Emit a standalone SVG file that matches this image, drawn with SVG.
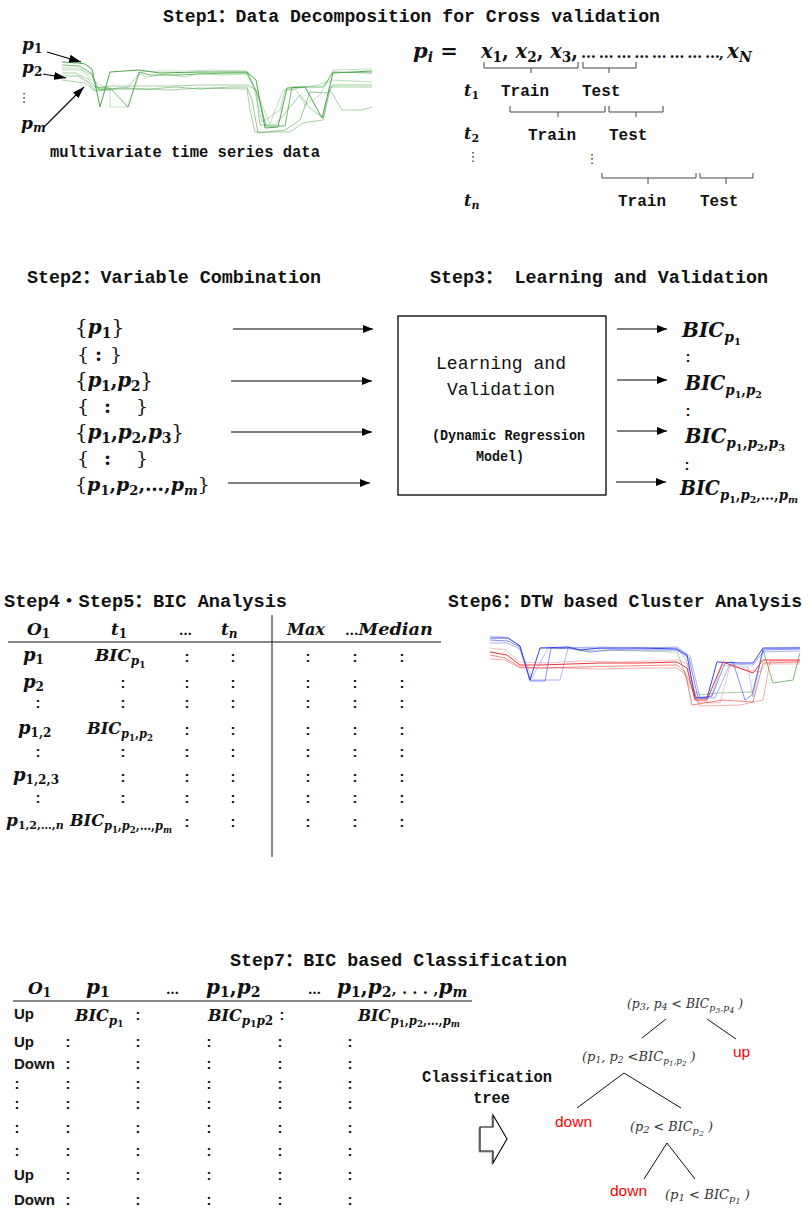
<svg xmlns="http://www.w3.org/2000/svg" width="810" height="1209" viewBox="0 0 810 1209">
<style>
.t{font-family:"Liberation Mono","Noto Sans CJK SC","DejaVu Sans Mono",monospace;font-weight:bold;fill:#111}
.s{font-family:"Liberation Mono","DejaVu Sans Mono",monospace;font-weight:bold;font-size:16px;fill:#111}
.m{font-family:"DejaVu Serif","Liberation Serif",serif;font-weight:bold;font-style:italic;fill:#111}
.n{font-style:normal}
.c{font-family:"Liberation Sans",Arial,sans-serif;font-weight:bold;font-size:15px;fill:#111;text-anchor:middle}
.vd{font-family:"DejaVu Sans",sans-serif;font-size:13px;fill:#333;text-anchor:middle}
.b{font-family:"Liberation Sans",Arial,sans-serif;font-weight:bold;font-size:15px;fill:#111}
.tr{font-family:"DejaVu Serif","Liberation Serif",serif;font-style:italic;font-size:13px;fill:#333}
.red{font-family:"Liberation Sans",Arial,sans-serif;font-size:15.5px;fill:#f00}
.ln{fill:none;stroke:#000;stroke-width:1.1}
.tl{fill:none;stroke:#111;stroke-width:1}
.br{fill:none;stroke:#444;stroke-width:1}
.g{fill:none;stroke:#2e9a2e;stroke-width:1}
.bl{fill:none;stroke:#3344ee;stroke-width:1}
.rd{fill:none;stroke:#ee3333;stroke-width:1}
.gg{fill:none;stroke:#4a9a4a;stroke-width:1}
</style>
<defs>
<marker id="ah" viewBox="0 0 10 8" refX="10" refY="4" markerWidth="10" markerHeight="8" markerUnits="userSpaceOnUse" orient="auto"><path d="M0,0 L10,4 L0,8 z" fill="#000"/></marker>
<marker id="ahs" viewBox="0 0 12 8" refX="12" refY="4" markerWidth="12" markerHeight="8" markerUnits="userSpaceOnUse" orient="auto"><path d="M0,0 L12,4 L0,8 z" fill="#000"/></marker>
</defs>

<!-- Step 1: data decomposition -->
<g id="step1">
<text class="t" x="163" y="22" font-size="18" textLength="497" lengthAdjust="spacingAndGlyphs">Step1：Data Decomposition for Cross validation</text>
<g id="series-labels">
<text class="m" x="22" y="50" font-size="17">p<tspan class="n" font-size="12" dy="3">1</tspan></text>
<text class="m" x="22" y="73" font-size="17">p<tspan class="n" font-size="12" dy="3">2</tspan></text>
<text class="vd" x="24" y="102">⋮</text>
<text class="m" x="21" y="129" font-size="17">p<tspan font-size="12" dy="3">m</tspan></text>
</g>
<g id="mts-chart" opacity="0.85">
<polyline class="g" stroke="#1e7d1e" points="62,62 78,63 85,64 92,69 100,107 110,72 139,70 160,73 200,72 247,72 256,80 265,128 278,127 287,88 305,87 322,118 333,73 372,71"/>
<polyline class="g" stroke="#1e7d1e" opacity="0.8" points="62,65 80,66 92,74 97,88 110,88 128,107 139,72 150,75 175,75 200,74 230,73 247,73 258,95 266,126 285,126 292,87 322,87 325,85 333,72 372,73"/>
<polyline class="g" opacity="0.6" points="62,76 78,76 88,82 95,90 110,89 135,89 150,89 175,87 200,89 230,87 247,87 252,100 258,133 285,130 300,120 310,92 328,93 333,85 372,85"/>
<polyline class="g" opacity="0.5" points="62,80 85,83 95,91 110,90 118,88 128,88 139,89 170,90 200,88 247,89 250,110 255,132 290,132 303,123 323,120 330,90 342,110 362,110 372,107"/>
<polyline class="g" opacity="0.5" points="62,73 75,73 88,79 96,88 110,86 139,86 170,86 200,85 247,85 256,90 260,125 275,125 300,95 310,108 323,118 330,87 372,87"/>
<polyline class="g" opacity="0.4" points="62,68 80,68 92,76 100,90 110,89 128,87 139,74 148,77 165,74 185,77 200,73 220,75 247,74 254,88 262,122 280,110 285,90 300,88 318,85 333,80 372,82"/>
<polyline class="g" opacity="0.35" points="62,70 82,70 92,80 110,90 110,107 128,107 140,72 160,71 190,71 215,70 247,71 253,84 270,124 283,90 296,90 305,105 320,95 333,70 372,69"/>
</g>
<text class="s" x="50" y="157" textLength="270" lengthAdjust="spacingAndGlyphs">multivariate time series data</text>

<g id="split-eq">
<text class="m" x="413" y="58" font-size="21">p<tspan font-size="14" dy="4">i</tspan><tspan class="n" dy="-4"> =</tspan></text>
<text class="m" x="481" y="58" font-size="20" textLength="97" lengthAdjust="spacingAndGlyphs">x<tspan class="n" font-size="14" dy="4">1</tspan><tspan class="n" dy="-4">, </tspan>x<tspan class="n" font-size="14" dy="4">2</tspan><tspan class="n" dy="-4">, </tspan>x<tspan class="n" font-size="14" dy="4">3</tspan><tspan class="n" dy="-4">,</tspan></text>
<text class="m n" x="581" y="58" font-size="15" textLength="143" lengthAdjust="spacing">… … … … … … … …,</text>
<text class="m" x="727" y="58" font-size="20">x<tspan font-size="14" dy="4">N</tspan></text>
</g>
<g id="folds">
<text class="m" x="464" y="96" font-size="16">t<tspan class="n" font-size="11" dy="3">1</tspan></text>
<text class="s" x="501" y="96">Train</text>
<text class="s" x="582" y="96">Test</text>
<text class="m" x="464" y="139" font-size="16">t<tspan class="n" font-size="11" dy="3">2</tspan></text>
<text class="s" x="528" y="140">Train</text>
<text class="s" x="609" y="140">Test</text>
<text class="vd" x="473" y="161">⋮</text>
<text class="vd" x="592" y="163">⋮</text>
<text class="m" x="464" y="206" font-size="16">t<tspan font-size="11" dy="3">n</tspan></text>
<text class="s" x="618" y="206">Train</text>
<text class="s" x="700" y="206">Test</text>
</g>
</g>

<!-- Step 2 / Step 3 -->
<g id="step2">
<text class="t" x="27" y="283" font-size="18" textLength="294" lengthAdjust="spacingAndGlyphs">Step2：Variable Combination</text>
<text class="m" x="75" y="334" font-size="20"><tspan class="n" font-weight="normal">{</tspan>p<tspan class="n" font-size="14" dy="4">1</tspan><tspan class="n" font-weight="normal" dy="-4">}</tspan></text>
<text class="m n" x="77 95 110" y="361" font-size="19" style="font-weight:normal">{<tspan font-weight="bold">:</tspan>}</text>
<text class="m" x="75" y="387" font-size="20" textLength="78" lengthAdjust="spacing"><tspan class="n" font-weight="normal">{</tspan>p<tspan class="n" font-size="14" dy="4">1</tspan><tspan class="n" dy="-4">,</tspan>p<tspan class="n" font-size="14" dy="4">2</tspan><tspan class="n" font-weight="normal" dy="-4">}</tspan></text>
<text class="m n" x="77 104 136" y="413" font-size="19" style="font-weight:normal">{<tspan font-weight="bold">:</tspan>}</text>
<text class="m" x="75" y="439" font-size="20" textLength="109" lengthAdjust="spacing"><tspan class="n" font-weight="normal">{</tspan>p<tspan class="n" font-size="14" dy="4">1</tspan><tspan class="n" dy="-4">,</tspan>p<tspan class="n" font-size="14" dy="4">2</tspan><tspan class="n" dy="-4">,</tspan>p<tspan class="n" font-size="14" dy="4">3</tspan><tspan class="n" font-weight="normal" dy="-4">}</tspan></text>
<text class="m n" x="77 104 136" y="465" font-size="19" style="font-weight:normal">{<tspan font-weight="bold">:</tspan>}</text>
<text class="m" x="75" y="491" font-size="19"><tspan class="n" font-weight="normal">{</tspan>p<tspan class="n" font-size="13" dy="4">1</tspan><tspan class="n" dy="-4">,</tspan>p<tspan class="n" font-size="13" dy="4">2</tspan><tspan class="n" dy="-4">,…,</tspan>p<tspan font-size="13" dy="4">m</tspan><tspan class="n" font-weight="normal" dy="-4">}</tspan></text>
</g>

<g id="step3">
<text class="t" x="430" y="283" font-size="18" textLength="338" lengthAdjust="spacingAndGlyphs">Step3： Learning and Validation</text>
<rect x="398" y="316" width="208" height="179" fill="#fff" stroke="#000" stroke-width="1.3"/>
<text class="t" x="436" y="369" font-size="19" style="font-weight:normal" textLength="130" lengthAdjust="spacingAndGlyphs">Learning and</text>
<text class="t" x="447" y="395" font-size="19" style="font-weight:normal" textLength="108" lengthAdjust="spacingAndGlyphs">Validation</text>
<text class="t" x="432" y="440" font-size="14" textLength="153" lengthAdjust="spacingAndGlyphs">(Dynamic Regression</text>
<text class="t" x="476" y="461" font-size="14" textLength="48" lengthAdjust="spacingAndGlyphs">Model)</text>
</g>

<g id="bic-outputs">
<text class="m" x="682" y="337" font-size="20">BIC<tspan font-size="14" dy="5">p</tspan><tspan class="n" font-size="10" dy="3">1</tspan></text>
<text class="c" x="688" y="362">:</text>
<text class="m" x="685" y="390" font-size="20" textLength="77" lengthAdjust="spacingAndGlyphs">BIC<tspan font-size="14" dy="5">p</tspan><tspan class="n" font-size="10" dy="3">1</tspan><tspan class="n" font-size="14" dy="-3">,</tspan><tspan font-size="14">p</tspan><tspan class="n" font-size="10" dy="3">2</tspan></text>
<text class="c" x="688" y="416">:</text>
<text class="m" x="685" y="443" font-size="20" textLength="100" lengthAdjust="spacingAndGlyphs">BIC<tspan font-size="14" dy="5">p</tspan><tspan class="n" font-size="10" dy="3">1</tspan><tspan class="n" font-size="14" dy="-3">,</tspan><tspan font-size="14">p</tspan><tspan class="n" font-size="10" dy="3">2</tspan><tspan class="n" font-size="14" dy="-3">,</tspan><tspan font-size="14">p</tspan><tspan class="n" font-size="10" dy="3">3</tspan></text>
<text class="c" x="687" y="470">:</text>
<text class="m" x="680" y="495" font-size="20" textLength="118" lengthAdjust="spacingAndGlyphs">BIC<tspan font-size="14" dy="5">p</tspan><tspan class="n" font-size="10" dy="3">1</tspan><tspan class="n" font-size="14" dy="-3">,</tspan><tspan font-size="14">p</tspan><tspan class="n" font-size="10" dy="3">2</tspan><tspan class="n" font-size="14" dy="-3">,…,</tspan><tspan font-size="14">p</tspan><tspan font-size="10" dy="3">m</tspan></text>
</g>

<!-- Step 4 / Step 5 table -->
<g id="step45">
<text class="t" x="4" y="607" font-size="18" textLength="283" lengthAdjust="spacingAndGlyphs">Step4・Step5：BIC Analysis</text>
<line class="tl" x1="8" y1="642" x2="441" y2="642" stroke-width="1.3"/>
<line class="tl" x1="272" y1="615" x2="272" y2="857" stroke-width="1.3"/>
<g id="t45-head">
<text class="m" x="27" y="635" font-size="17">O<tspan class="n" font-size="12" dy="3">1</tspan></text>
<text class="m" x="111" y="635" font-size="17">t<tspan class="n" font-size="12" dy="3">1</tspan></text>
<text class="m n" x="179" y="635" font-size="13">…</text>
<text class="m" x="221" y="635" font-size="17">t<tspan font-size="12" dy="3">n</tspan></text>
<text class="m" x="287" y="635" font-size="17" textLength="38" lengthAdjust="spacingAndGlyphs">Max</text>
<text class="m" x="345" y="635" font-size="17" textLength="88" lengthAdjust="spacingAndGlyphs"><tspan class="n" font-size="13">…</tspan>Median</text>
</g>
<g id="t45-rows">
<text class="m" x="23" y="661" font-size="18">p<tspan class="n" font-size="12" dy="3">1</tspan></text>
<text class="m" x="95" y="661" font-size="17">BIC<tspan font-size="12" dy="4">p</tspan><tspan class="n" font-size="9" dy="3">1</tspan></text>
<text class="m" x="23" y="688" font-size="18">p<tspan class="n" font-size="12" dy="3">2</tspan></text>
<text class="m" x="18" y="734" font-size="18">p<tspan class="n" font-size="12" dy="3">1,2</tspan></text>
<text class="m" x="87" y="734" font-size="17" textLength="66" lengthAdjust="spacingAndGlyphs">BIC<tspan font-size="12" dy="4">p</tspan><tspan class="n" font-size="9" dy="3">1</tspan><tspan class="n" font-size="12" dy="-3">,</tspan><tspan font-size="12">p</tspan><tspan class="n" font-size="9" dy="3">2</tspan></text>
<text class="m" x="13" y="781" font-size="18">p<tspan class="n" font-size="12" dy="3">1,2,3</tspan></text>
<text class="m" x="6" y="826" font-size="17">p<tspan class="n" font-size="11" dy="3">1,2,…,</tspan><tspan font-size="11">n</tspan></text>
<text class="m" x="70" y="826" font-size="17" textLength="102" lengthAdjust="spacingAndGlyphs">BIC<tspan font-size="12" dy="4">p</tspan><tspan class="n" font-size="9" dy="3">1</tspan><tspan class="n" font-size="12" dy="-3">,</tspan><tspan font-size="12">p</tspan><tspan class="n" font-size="9" dy="3">2</tspan><tspan class="n" font-size="12" dy="-3">,…,</tspan><tspan font-size="12">p</tspan><tspan font-size="9" dy="3">m</tspan></text>
<text class="c" x="187 233 308 355 402" y="662">:::::</text>
<text class="c" x="123 187 233 308 355 402" y="688">::::::</text>
<text class="c" x="38 123 187 233 308 355 402" y="708">:::::::</text>
<text class="c" x="187 233 308 355 402" y="735">:::::</text>
<text class="c" x="38 123 187 233 308 355 402" y="757">:::::::</text>
<text class="c" x="123 187 233 308 355 402" y="782">::::::</text>
<text class="c" x="38 123 187 233 308 355 402" y="803">:::::::</text>
<text class="c" x="187 233 308 355 402" y="827">:::::</text>
</g>
</g>

<!-- Step 6: clustering -->
<g id="step6">
<text class="t" x="448" y="607" font-size="18" textLength="354" lengthAdjust="spacingAndGlyphs">Step6：DTW based Cluster Analysis</text>
<g id="cluster-chart">
<polyline class="gg" opacity="0.7" points="763,650 773,683 793,680 800,653"/>
<polyline class="gg" opacity="0.5" points="677,651 690,688 700,695 717,693 753,692 763,650"/>
<polyline class="gg" opacity="0.4" points="540,648 560,649 568,647 580,651 600,650 640,651 677,652"/>
<polyline class="bl" points="490,638 508,638 520,646 530,680 540,648 568,647 580,650 600,648 640,648 677,649 687,655 695,698 707,698 717,662 740,663 753,663 763,648 800,648"/>
<polyline class="bl" opacity="0.6" points="490,640 508,641 520,647 530,681 545,681 551,648 575,649 590,652 610,650 640,650 677,650 689,658 698,698 712,696 725,663 733,662 745,700 752,695 763,650 800,649"/>
<polyline class="bl" opacity="0.4" points="490,643 507,643 520,649 530,680 560,680 568,648 590,648 620,649 650,648 677,647 690,656 700,698 715,698 730,664 753,665 763,652 800,651"/>
<polyline class="bl" opacity="0.3" points="490,636 506,637 518,644 532,678 548,648 600,647 677,648 686,660 696,697 711,697 722,665 748,667 753,697 763,649 800,647"/>
<polyline class="rd" points="490,652 507,655 520,665 540,665 570,664 600,663 640,663 677,662 687,668 695,700 707,700 723,662 753,673 763,660 800,660"/>
<polyline class="rd" opacity="0.6" points="490,655 505,658 520,667 540,668 580,667 620,666 677,665 685,672 692,705 723,700 753,702 763,663 800,662"/>
<polyline class="rd" opacity="0.4" points="490,659 505,660 520,668 560,668 600,669 640,668 677,668 687,676 700,706 740,705 763,700 770,661 800,661"/>
<polyline class="rd" opacity="0.3" points="490,648 506,650 519,662 545,663 580,661 620,662 677,660 688,664 697,702 720,703 730,666 748,670 760,672 765,664 800,664"/>
</g>
</g>

<!-- Step 7: classification table -->
<g id="step7">
<text class="t" x="230" y="966" font-size="18" textLength="337" lengthAdjust="spacingAndGlyphs">Step7：BIC based Classification</text>
<line class="tl" x1="13" y1="1001" x2="472" y2="1001" stroke-width="1.4"/>
<g id="t7-head">
<text class="m" x="28" y="994" font-size="17">O<tspan class="n" font-size="12" dy="3">1</tspan></text>
<text class="m" x="86" y="994" font-size="20">p<tspan class="n" font-size="14" dy="3">1</tspan></text>
<text class="m n" x="166" y="994" font-size="13">…</text>
<text class="m" x="206" y="994" font-size="20">p<tspan class="n" font-size="14" dy="3">1</tspan><tspan class="n" dy="-3">,</tspan>p<tspan class="n" font-size="14" dy="3">2</tspan></text>
<text class="m n" x="308" y="994" font-size="13">…</text>
<text class="m" x="337" y="994" font-size="20">p<tspan class="n" font-size="14" dy="3">1</tspan><tspan class="n" dy="-3">,</tspan>p<tspan class="n" font-size="14" dy="3">2</tspan><tspan class="n" font-size="15" dy="-3">, . . . ,</tspan>p<tspan font-size="14" dy="3">m</tspan></text>
</g>
<g id="t7-rows">
<text class="b" x="14" y="1019">Up</text>
<text class="m" x="75" y="1021" font-size="16">BIC<tspan font-size="12" dy="4">p</tspan><tspan class="n" font-size="9" dy="2">1</tspan></text>
<text class="m" x="208" y="1021" font-size="16">BIC<tspan font-size="12" dy="4">p</tspan><tspan class="n" font-size="9" dy="2">1</tspan><tspan font-size="12" dy="-2">p</tspan><tspan class="n" font-size="12">2</tspan></text>
<text class="m" x="358" y="1021" font-size="16" textLength="102" lengthAdjust="spacingAndGlyphs">BIC<tspan font-size="12" dy="4">p</tspan><tspan class="n" font-size="9" dy="2">1</tspan><tspan class="n" font-size="12" dy="-2">,</tspan><tspan font-size="12">p</tspan><tspan class="n" font-size="9" dy="2">2</tspan><tspan class="n" font-size="12" dy="-2">,…,</tspan><tspan font-size="12">p</tspan><tspan font-size="9" dy="2">m</tspan></text>
<text class="c" x="138" y="1020">:</text>
<text class="c" x="282" y="1020">:</text>
<text class="b" x="14" y="1047">Up</text>
<text class="c" x="68 138 209 280 350" y="1047">:::::</text>
<text class="b" x="14" y="1069">Down</text>
<text class="c" x="68 138 209 280 350" y="1069">:::::</text>
<text class="c" x="17 68 138 209 280 350" y="1089">::::::</text>
<text class="c" x="17 68 138 209 280 350" y="1109">::::::</text>
<text class="c" x="17 68 138 209 280 350" y="1133">::::::</text>
<text class="c" x="17 68 138 209 280 350" y="1156">::::::</text>
<text class="b" x="14" y="1180">Up</text>
<text class="c" x="68 138 209 280 350" y="1180">:::::</text>
<text class="b" x="14" y="1205">Down</text>
<text class="c" x="68 138 209 280 350" y="1205">:::::</text>
</g>
<text class="s" x="422" y="1082" textLength="130" lengthAdjust="spacingAndGlyphs">Classification</text>
<text class="s" x="473" y="1103" textLength="37" lengthAdjust="spacingAndGlyphs">tree</text>
</g>

<!-- classification tree -->
<g id="tree">
<g id="n-root"><text class="tr" x="627" y="1008" textLength="116" lengthAdjust="spacingAndGlyphs">(p<tspan font-size="10" dy="2">3</tspan><tspan dy="-2">, p</tspan><tspan font-size="10" dy="2">4</tspan><tspan dy="-2"> &lt;  BIC</tspan><tspan font-size="10" dy="3">p</tspan><tspan font-size="8" dy="2">3</tspan><tspan font-size="10" dy="-2">,p</tspan><tspan font-size="8" dy="2">4</tspan><tspan dy="-5"> )</tspan></text></g>
<g id="n-up"><text class="red" x="733" y="1057">up</text></g>
<g id="n-p12"><text class="tr" x="582" y="1061" font-size="12">(p<tspan font-size="9" dy="2">1</tspan><tspan dy="-2">, p</tspan><tspan font-size="9" dy="2">2</tspan><tspan dy="-2"> &lt;BIC</tspan><tspan font-size="9" dy="3">p</tspan><tspan font-size="7" dy="2">1</tspan><tspan font-size="9" dy="-2">,p</tspan><tspan font-size="7" dy="2">2</tspan><tspan dy="-5"> )</tspan></text></g>
<g id="n-down1"><text class="red" x="555" y="1127">down</text></g>
<g id="n-p2"><text class="tr" x="630" y="1131" textLength="83" lengthAdjust="spacingAndGlyphs">(p<tspan font-size="10" dy="2">2</tspan><tspan dy="-2"> &lt;  BIC</tspan><tspan font-size="10" dy="3">p</tspan><tspan font-size="8" dy="2">2</tspan><tspan dy="-5"> )</tspan></text></g>
<g id="n-down2"><text class="red" x="610" y="1196">down</text></g>
<g id="n-p1"><text class="tr" x="665" y="1199" textLength="85" lengthAdjust="spacingAndGlyphs">(p<tspan font-size="10" dy="2">1</tspan><tspan dy="-2"> &lt;  BIC</tspan><tspan font-size="10" dy="3">p</tspan><tspan font-size="8" dy="2">1</tspan><tspan dy="-5"> )</tspan></text></g>
</g>

<!-- connectors -->
<g id="connectors">
<line class="ln" x1="47" y1="52" x2="81" y2="62" marker-end="url(#ahs)"/>
<line class="ln" x1="43" y1="74" x2="66" y2="78" marker-end="url(#ahs)"/>
<line class="ln" x1="43" y1="128" x2="84" y2="87" marker-end="url(#ahs)"/>
<path class="br" d="M484,62 V68 H578 V62 M531,68 V73 M583,62 V68 H636 V62 M609,68 V73"/>
<path class="br" d="M510,106 V112 H605 V106 M558,112 V117 M609,106 V112 H663 V106 M636,112 V117"/>
<path class="br" d="M602,173 V178 H696 V173 M648,178 V184 M700,173 V178 H753 V173 M726,178 V184"/>
<line class="ln" x1="233" y1="329" x2="373" y2="329" marker-end="url(#ah)"/>
<line class="ln" x1="231" y1="381" x2="372" y2="381" marker-end="url(#ah)"/>
<line class="ln" x1="231" y1="432" x2="372" y2="432" marker-end="url(#ah)"/>
<line class="ln" x1="228" y1="483" x2="370" y2="483" marker-end="url(#ah)"/>
<line class="ln" x1="617" y1="329" x2="667" y2="329" marker-end="url(#ah)"/>
<line class="ln" x1="617" y1="380" x2="667" y2="380" marker-end="url(#ah)"/>
<line class="ln" x1="617" y1="431" x2="667" y2="431" marker-end="url(#ah)"/>
<line class="ln" x1="616" y1="482" x2="666" y2="482" marker-end="url(#ah)"/>
<line class="tl" x1="666" y1="1019" x2="642" y2="1038"/>
<line class="tl" x1="707" y1="1019" x2="736" y2="1039"/>
<line class="tl" x1="624" y1="1073" x2="577" y2="1108"/>
<line class="tl" x1="624" y1="1073" x2="681" y2="1108"/>
<line class="tl" x1="667" y1="1143" x2="644" y2="1179"/>
<line class="tl" x1="667" y1="1143" x2="695" y2="1179"/>
<polygon points="479,1128 492,1128 492,1116 506,1140 492,1164 492,1152 479,1152" fill="none" stroke="#999" stroke-width="1"/>
<polygon points="480,1127 493,1127 493,1115 507,1139 493,1163 493,1151 480,1151" fill="#fff" stroke="#000" stroke-width="1.1"/>
</g>
</svg>
